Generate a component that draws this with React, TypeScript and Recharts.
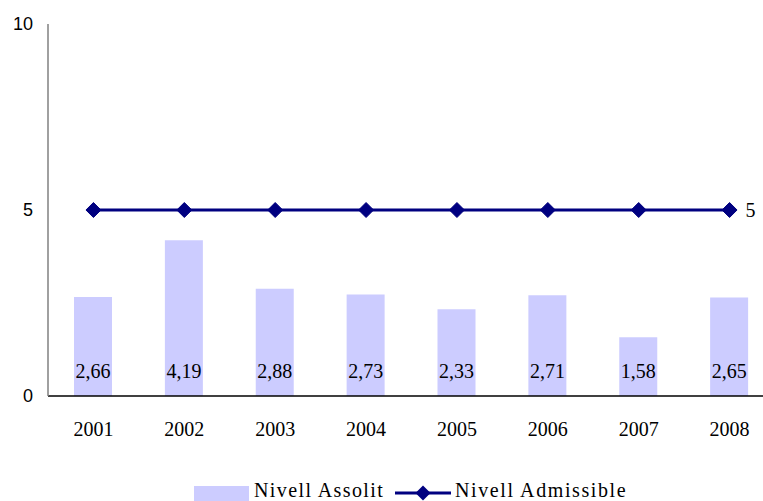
import { ComposedChart, Bar, Line, XAxis, YAxis, Legend, LabelList } from 'recharts'

const years = ['2001', '2002', '2003', '2004', '2005', '2006', '2007', '2008']
const assolit = [2.66, 4.19, 2.88, 2.73, 2.33, 2.71, 1.58, 2.65]
const admissible = [5, 5, 5, 5, 5, 5, 5, 5]
const yTicks = [0, 5, 10]

const data = years.map((year, i) => ({
  year,
  'Nivell Assolit': assolit[i],
  'Nivell Admissible': admissible[i],
}))

const SERIF = '"Liberation Serif", "DejaVu Serif", serif'
const SANS = '"Liberation Sans", "DejaVu Sans", sans-serif'
const NAVY = '#000080'
const LAVENDER = '#ccccff'

const fmt = (v: number) => v.toFixed(2).replace('.', ',')

// eslint-disable-next-line @typescript-eslint/no-explicit-any
const Diamond = (props: any) => {
  const { cx, cy } = props
  if (cx == null || cy == null) return null
  const r = 7.5
  return (
    <path
      d={`M${cx},${cy - r} L${cx + r},${cy} L${cx},${cy + r} L${cx - r},${cy} Z`}
      fill={NAVY}
      stroke={NAVY}
    />
  )
}

// eslint-disable-next-line @typescript-eslint/no-explicit-any
const BarValue = (props: any) => {
  const { x, y, width, height, value } = props
  return (
    <text
      x={x + width / 2}
      y={y + height - 18}
      textAnchor="middle"
      fontFamily={SERIF}
      fontSize={20}
      fill="#000"
    >
      {fmt(value)}
    </text>
  )
}

// eslint-disable-next-line @typescript-eslint/no-explicit-any
const LastValue = (props: any) => {
  const { x, y, index, value } = props
  if (index !== years.length - 1) return null
  return (
    <text x={x + 16} y={y + 7} fontFamily={SERIF} fontSize={20} fill="#000">
      {value}
    </text>
  )
}

const LegendContent = () => (
  <svg width={790} height={25} style={{ display: 'block' }}>
    <rect x={194} y={10} width={55} height={15} fill={LAVENDER} />
    <text x={254} y={21} fontFamily={SERIF} fontSize={20} letterSpacing={1.4} fill="#000">
      Nivell Assolit
    </text>
    <line x1={395} y1={17} x2={451} y2={17} stroke={NAVY} strokeWidth={3} />
    <path d="M423,9.5 L430.5,17 L423,24.5 L415.5,17 Z" fill={NAVY} />
    <text x={455} y={21} fontFamily={SERIF} fontSize={20} letterSpacing={1.6} fill="#000">
      Nivell Admissible
    </text>
  </svg>
)

export default function App() {
  return (
    <div
      style={{
        position: 'absolute',
        left: 0,
        top: 0,
        width: 763,
        height: 501,
        overflow: 'hidden',
        background: '#fff',
      }}
    >
      <ComposedChart
        width={790}
        height={501}
        data={data}
        margin={{ top: 24, right: 15, left: 0, bottom: 0 }}
        barCategoryGap="29%"
      >
        <XAxis
          dataKey="year"
          height={80}
          axisLine={{ stroke: '#000', strokeWidth: 1.5 }}
          tickLine={false}
          tickSize={0}
          tickMargin={26}
          tick={{ fontSize: 20, fontFamily: SERIF, fill: '#000' }}
          interval={0}
        />
        <YAxis
          width={48}
          domain={[0, 10]}
          ticks={yTicks}
          axisLine={{ stroke: '#808080', strokeWidth: 1.5 }}
          tickLine={false}
          tickSize={0}
          tickMargin={15}
          tick={{ fontSize: 18, fontFamily: SANS, fill: '#000' }}
        />
        <Legend
          verticalAlign="bottom"
          height={25}
          wrapperStyle={{ left: 0, bottom: 0, width: 790 }}
          content={<LegendContent />}
        />
        <Bar dataKey="Nivell Assolit" fill={LAVENDER} barSize={38} isAnimationActive={false}>
          <LabelList dataKey="Nivell Assolit" content={<BarValue />} />
        </Bar>
        <Line
          dataKey="Nivell Admissible"
          stroke={NAVY}
          strokeWidth={3}
          dot={<Diamond />}
          activeDot={false}
          isAnimationActive={false}
        >
          <LabelList dataKey="Nivell Admissible" content={<LastValue />} />
        </Line>
      </ComposedChart>
    </div>
  )
}
